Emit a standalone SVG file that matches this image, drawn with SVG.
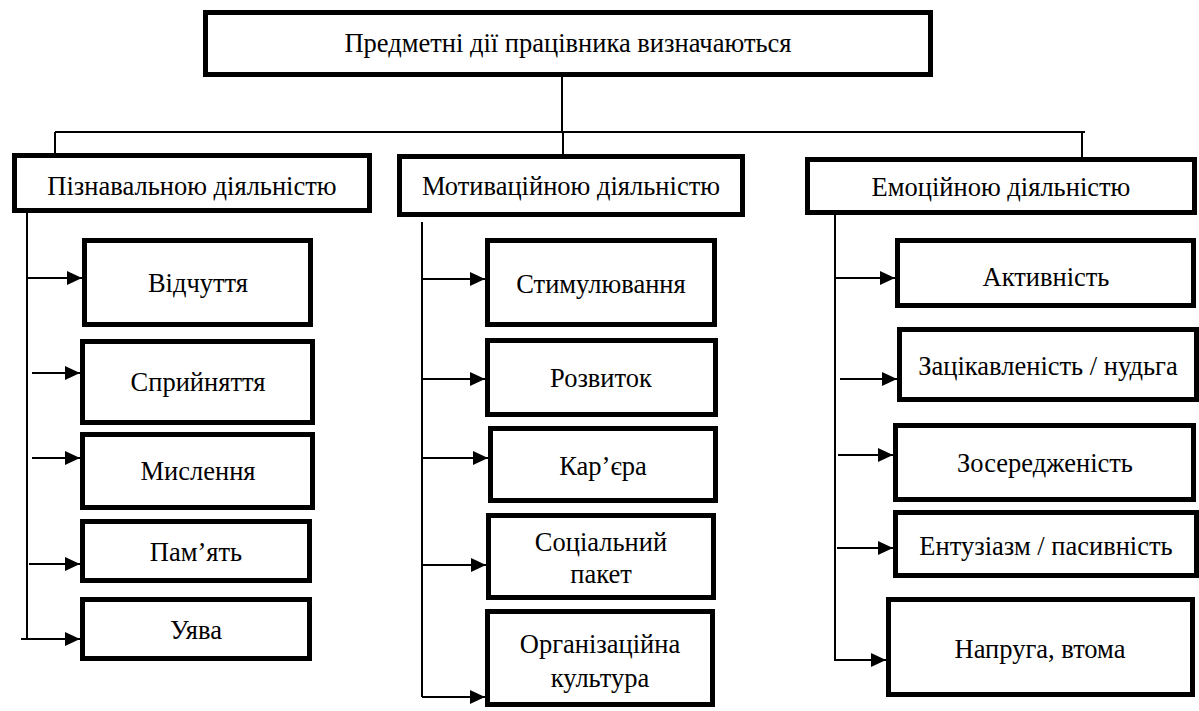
<svg xmlns="http://www.w3.org/2000/svg" width="1199" height="711" viewBox="0 0 1199 711">
<style>
.box{fill:#fff;stroke:#000;stroke-width:5}
.c{stroke:#000;stroke-width:2;fill:none}
.t{font-family:"Liberation Serif","Times New Roman",serif;font-size:26.5px;fill:#000;text-anchor:middle}
</style>
<defs>
<marker id="ah" markerUnits="userSpaceOnUse" markerWidth="16" markerHeight="16" viewBox="0 0 16 16" refX="15" refY="8" orient="auto">
<path d="M0,1 L15,8 L0,15 Z" fill="#000"/>
</marker>
</defs>
<rect width="1199" height="711" fill="#fff"/>
<g id="connectors">
<path class="c" d="M562,76 V132 M55,132 H1085 M55,132 V154 M563,132 V155 M1082,132 V158"/>
<path class="c" d="M27,212 V638"/>
<path class="c" marker-end="url(#ah)" d="M27,278 H82"/>
<path class="c" marker-end="url(#ah)" d="M32,373 H80"/>
<path class="c" marker-end="url(#ah)" d="M32,458 H80"/>
<path class="c" marker-end="url(#ah)" d="M29,564 H80"/>
<path class="c" marker-end="url(#ah)" d="M21,639 H80"/>
<path class="c" d="M422,222 V697"/>
<path class="c" marker-end="url(#ah)" d="M422,279 H485"/>
<path class="c" marker-end="url(#ah)" d="M422,379 H485"/>
<path class="c" marker-end="url(#ah)" d="M422,458 H488"/>
<path class="c" marker-end="url(#ah)" d="M422,565 H486"/>
<path class="c" marker-end="url(#ah)" d="M422,697 H485"/>
<path class="c" d="M835,214 V661"/>
<path class="c" marker-end="url(#ah)" d="M835,278 H895"/>
<path class="c" marker-end="url(#ah)" d="M840,379 H897"/>
<path class="c" marker-end="url(#ah)" d="M838,455 H893"/>
<path class="c" marker-end="url(#ah)" d="M837,548 H893"/>
<path class="c" marker-end="url(#ah)" d="M835,660 H886"/>
</g>
<g id="root"><rect class="box" x="205.5" y="12.5" width="725" height="62"/><text class="t" x="568" y="52">Предметні дії працівника визначаються</text></g>
<g id="cognitive"><rect class="box" x="14.5" y="155.5" width="355" height="55"/><text class="t" x="192" y="195">Пізнавальною діяльністю</text></g>
<g id="motivational"><rect class="box" x="399.5" y="156.5" width="343" height="58"/><text class="t" x="571" y="195">Мотиваційною діяльністю</text></g>
<g id="emotional"><rect class="box" x="807.5" y="159.5" width="387" height="53"/><text class="t" x="1001" y="196">Емоційною діяльністю</text></g>
<g id="sensation"><rect class="box" x="84.5" y="240.5" width="226" height="84"/><text class="t" x="198" y="292">Відчуття</text></g>
<g id="perception"><rect class="box" x="82.5" y="341.5" width="230" height="81"/><text class="t" x="198" y="391">Сприйняття</text></g>
<g id="thinking"><rect class="box" x="82.5" y="434.5" width="230" height="73"/><text class="t" x="198" y="480">Мислення</text></g>
<g id="memory"><rect class="box" x="82.5" y="521.5" width="227" height="59"/><text class="t" x="196" y="561">Пам’ять</text></g>
<g id="imagination"><rect class="box" x="82.5" y="599.5" width="227" height="59"/><text class="t" x="196" y="639">Уява</text></g>
<g id="stimulation"><rect class="box" x="487.5" y="240.5" width="227" height="84"/><text class="t" x="601" y="293">Стимулювання</text></g>
<g id="development"><rect class="box" x="487.5" y="340.5" width="228" height="74"/><text class="t" x="601" y="387">Розвиток</text></g>
<g id="career"><rect class="box" x="490.5" y="428.5" width="225" height="72"/><text class="t" x="603" y="475">Кар’єра</text></g>
<g id="social"><rect class="box" x="488.5" y="515.5" width="225" height="82"/><text class="t" x="601" y="551">Соціальний</text><text class="t" x="601" y="583">пакет</text></g>
<g id="culture"><rect class="box" x="487.5" y="611.5" width="225" height="93"/><text class="t" x="600" y="653">Організаційна</text><text class="t" x="600" y="687">культура</text></g>
<g id="activity"><rect class="box" x="897.5" y="240.5" width="296" height="65"/><text class="t" x="1046" y="286">Активність</text></g>
<g id="interest"><rect class="box" x="899.5" y="329.5" width="297" height="70"/><text class="t" x="1048" y="375">Зацікавленість / нудьга</text></g>
<g id="focus"><rect class="box" x="895.5" y="425.5" width="298" height="74"/><text class="t" x="1045" y="472">Зосередженість</text></g>
<g id="enthusiasm"><rect class="box" x="895.5" y="512.5" width="301" height="63"/><text class="t" x="1046" y="555">Ентузіазм / пасивність</text></g>
<g id="tension"><rect class="box" x="888.5" y="599.5" width="304" height="95"/><text class="t" x="1040" y="658">Напруга, втома</text></g>
</svg>
